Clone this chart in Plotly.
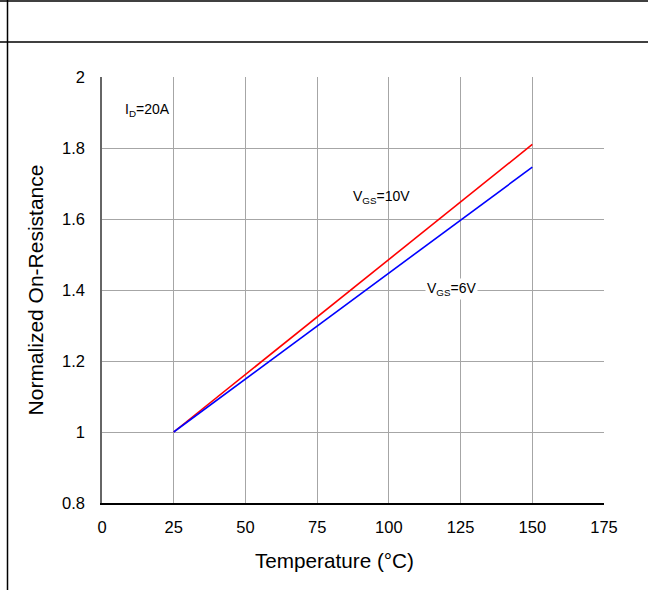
import plotly.graph_objects as go

temp = [25, 150]
vgs10 = [1.0, 1.81]
vgs6 = [1.0, 1.746]
x_ticks = [0, 25, 50, 75, 100, 125, 150, 175]
y_ticks = [0.8, 1.0, 1.2, 1.4, 1.6, 1.8, 2.0]
y_labels = ["0.8", "1", "1.2", "1.4", "1.6", "1.8", "2"]

W, H = 648, 590
L, R, T, B = 102, 44, 77, 87
pw, ph = W - L - R, H - T - B

def px(x):
    return (x - L) / pw

def py(y):
    return (H - B - y) / ph

fig = go.Figure()
fig.add_trace(go.Scatter(x=temp, y=vgs10, mode="lines", line=dict(color="#ff0000", width=1.6), showlegend=False))
fig.add_trace(go.Scatter(x=temp, y=vgs6, mode="lines", line=dict(color="#0000ff", width=1.6), showlegend=False))

fam = "Liberation Sans, Arial, sans-serif"
black = "#000000"

fig.update_layout(
    width=W, height=H,
    margin=dict(l=L, r=R, t=T, b=B),
    paper_bgcolor="white", plot_bgcolor="white",
    font=dict(family=fam, color=black, size=16),
    xaxis=dict(range=[0, 175], tickvals=x_ticks, showgrid=True, gridcolor="#a6a6a6", gridwidth=1,
               showline=True, linecolor=black, linewidth=1.5, mirror=False,
               ticks="outside", ticklen=8, tickcolor="rgba(0,0,0,0)",
               tickfont=dict(size=16.5, family=fam, color=black), zeroline=False),
    yaxis=dict(range=[0.8, 2.0], tickvals=y_ticks, ticktext=y_labels, showgrid=True, gridcolor="#a6a6a6", gridwidth=1,
               showline=True, linecolor="#666666", linewidth=1.5,
               ticks="outside", ticklen=12, tickcolor="rgba(0,0,0,0)", zeroline=False,
               tickfont=dict(size=16.5, family=fam, color=black),
               title=dict(text="Normalized On-Resistance", font=dict(size=21, family=fam, color=black), standoff=13)),
    annotations=[
        dict(x=px(334), y=py(560), xref="paper", yref="paper", text="Temperature (°C)", showarrow=False,
             font=dict(size=20.7, family=fam, color=black), xanchor="center", yanchor="middle"),
        dict(x=16, y=1.907, xref="x", yref="y", text="I<sub>D</sub>=20A", showarrow=False,
             font=dict(size=14, family=fam, color=black), bgcolor="white", xanchor="center", yanchor="middle"),
        dict(x=97.3, y=1.662, xref="x", yref="y", text="V<sub>GS</sub>=10V", showarrow=False,
             font=dict(size=14, family=fam, color=black), xanchor="center", yanchor="middle"),
        dict(x=122, y=1.403, xref="x", yref="y", text="V<sub>GS</sub>=6V", showarrow=False,
             font=dict(size=14, family=fam, color=black), bgcolor="white", xanchor="center", yanchor="middle"),
    ],
    shapes=[
        dict(type="line", xref="paper", yref="paper", x0=px(0), x1=px(W), y0=py(1), y1=py(1),
             line=dict(color="black", width=1.5)),
        dict(type="line", xref="paper", yref="paper", x0=px(0), x1=px(W), y0=py(42), y1=py(42),
             line=dict(color="black", width=1.5)),
        dict(type="line", xref="paper", yref="paper", x0=px(7.5), x1=px(7.5), y0=py(0), y1=py(H),
             line=dict(color="black", width=1.5)),
    ],
)

fig.write_html("out.html")
